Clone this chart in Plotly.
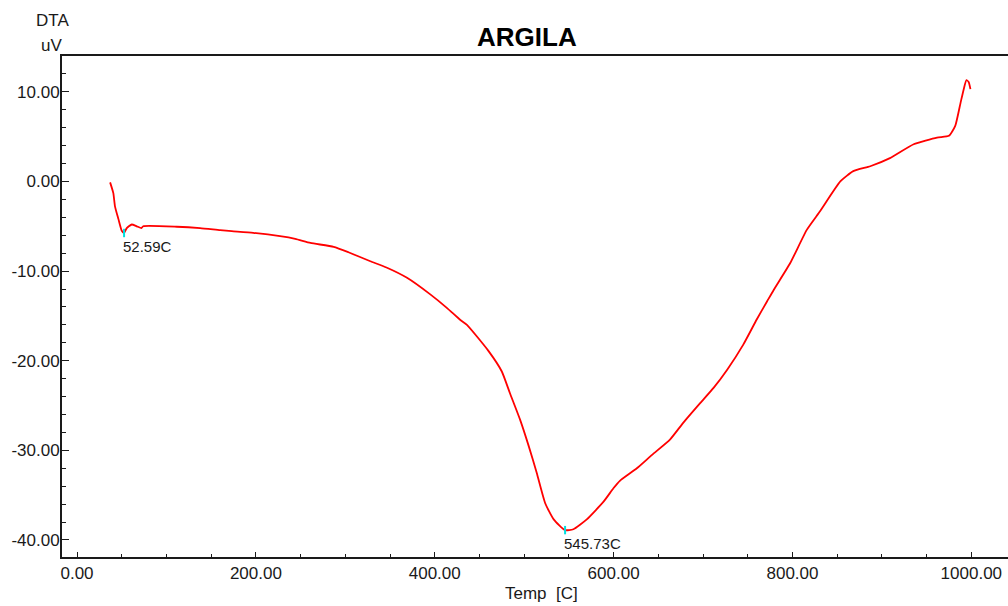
import plotly.graph_objects as go

temp_c = [37, 40.6, 42.5, 46.3, 50, 52.59, 55.6, 61.2, 66.8, 72, 74, 111.5,
          137.6, 160, 173, 197, 227, 244, 261, 287, 303.5, 328, 346, 369, 395,
          413.5, 428, 436, 460, 475, 484, 495.5, 505, 514, 523.5, 533, 545.73,
          555, 570, 589, 600, 607, 626, 643, 663, 678, 697, 712, 727, 745, 760,
          771.5, 779, 797.5, 816, 831, 853.5, 868, 887, 909, 935.5, 961.6, 975,
          982, 988, 991.5, 994.5, 997, 999]
dta_uv = [-0.1, -1.3, -2.8, -4.2, -5.5, -5.75, -5.2, -4.8, -5.0, -5.2, -5.0, -5.05,
          -5.2, -5.43, -5.54, -5.73, -6.1, -6.4, -6.85, -7.3, -7.9, -8.9, -9.6, -10.75, -12.6,
          -14.1, -15.4, -16.0, -18.9, -21.2, -23.6, -26.6, -29.5, -32.5, -35.9, -37.7, -38.9,
          -38.8, -37.7, -35.7, -34.2, -33.4, -32.0, -30.5, -28.8, -26.9, -24.7, -23.0, -21.0, -18.2, -15.4,
          -13.4, -12.1, -9.1, -5.4, -3.3, 0.0, 1.15, 1.7, 2.6, 4.15, 4.9, 5.1,
          6.2, 8.8, 10.3, 11.3, 11.1, 10.3]

peak_temp = [52.59, 545.73]
peak_val = [-5.75, -38.9]
peak_labels = ["52.59C", "545.73C"]

x_ticks = [0, 200, 400, 600, 800, 1000]
y_ticks = [-40, -30, -20, -10, 0, 10]

FONT = "Liberation Sans Narrow, Arial Narrow, Liberation Sans, Arial, sans-serif"
INK = "#1a1a1a"

L, R, T, B = 62, 0, 56, 49
W, H = 1008, 606
pw, ph = W - L - R, H - T - B


def px_x(x):
    return (x - L) / pw


def px_y(y):
    return (H - B - y) / ph


fig = go.Figure()
fig.add_trace(go.Scatter(x=temp_c, y=dta_uv, mode="lines",
                         line=dict(color="#ff0000", width=1.8, shape="spline", smoothing=0.5),
                         showlegend=False, hoverinfo="skip"))
fig.add_trace(go.Scatter(x=peak_temp, y=peak_val, mode="markers",
                         marker=dict(symbol="line-ns", size=6, color="#00e0e0",
                                     line=dict(color="#00e0e0", width=2)),
                         showlegend=False, hoverinfo="skip"))

for t, v, lab in zip(peak_temp, peak_val, peak_labels):
    fig.add_annotation(x=t, y=v, xref="x", yref="y", text=lab, showarrow=False,
                       xanchor="left", yanchor="top", xshift=-3, yshift=-3,
                       font=dict(family=FONT, size=15, color=INK))

fig.add_annotation(x=px_x(527), y=px_y(37), xref="paper", yref="paper",
                   text="<b>ARGILA</b>", showarrow=False, xanchor="center", yanchor="middle",
                   font=dict(family="Liberation Sans, Arial, sans-serif", size=26, color="#000"))
for txt, cx, cy in [("DTA", 52, 20), ("uV", 51, 46)]:
    fig.add_annotation(x=px_x(cx), y=px_y(cy), xref="paper", yref="paper", text=txt,
                       showarrow=False, xanchor="center", yanchor="middle",
                       font=dict(family=FONT, size=17, color=INK))
fig.add_annotation(x=px_x(541), y=px_y(593), xref="paper", yref="paper",
                   text="Temp&nbsp;&nbsp;[C]", showarrow=False,
                   xanchor="center", yanchor="middle",
                   font=dict(family=FONT, size=17, color=INK))

fig.update_layout(
    width=W, height=H,
    margin=dict(l=L, r=R, t=T, b=B, pad=0),
    paper_bgcolor="white", plot_bgcolor="white",
    font=dict(family=FONT, size=17, color=INK),
    xaxis=dict(range=[-16.8, 1041], tickvals=x_ticks,
               ticktext=[f"{v:.2f}" for v in x_ticks],
               showgrid=False, zeroline=False, showline=True, linecolor=INK, linewidth=2,
               mirror=True, ticks="inside", ticklen=5, tickwidth=1, tickcolor=INK,
               minor=dict(dtick=50, ticks="inside", ticklen=3, tickcolor=INK, showgrid=False),
               tickfont=dict(family=FONT, size=17, color=INK)),
    yaxis=dict(range=[-41.9, 14.0], tickvals=y_ticks,
               ticktext=[f"{v:.2f}" for v in y_ticks],
               showgrid=False, zeroline=False, showline=True, linecolor=INK, linewidth=2,
               ticks="inside", ticklen=7, tickwidth=1, tickcolor=INK, ticklabelstandoff=-3,
               minor=dict(dtick=2, ticks="inside", ticklen=4, tickcolor=INK, showgrid=False),
               tickfont=dict(family=FONT, size=17, color=INK)),
)

fig.write_html("out.html")
